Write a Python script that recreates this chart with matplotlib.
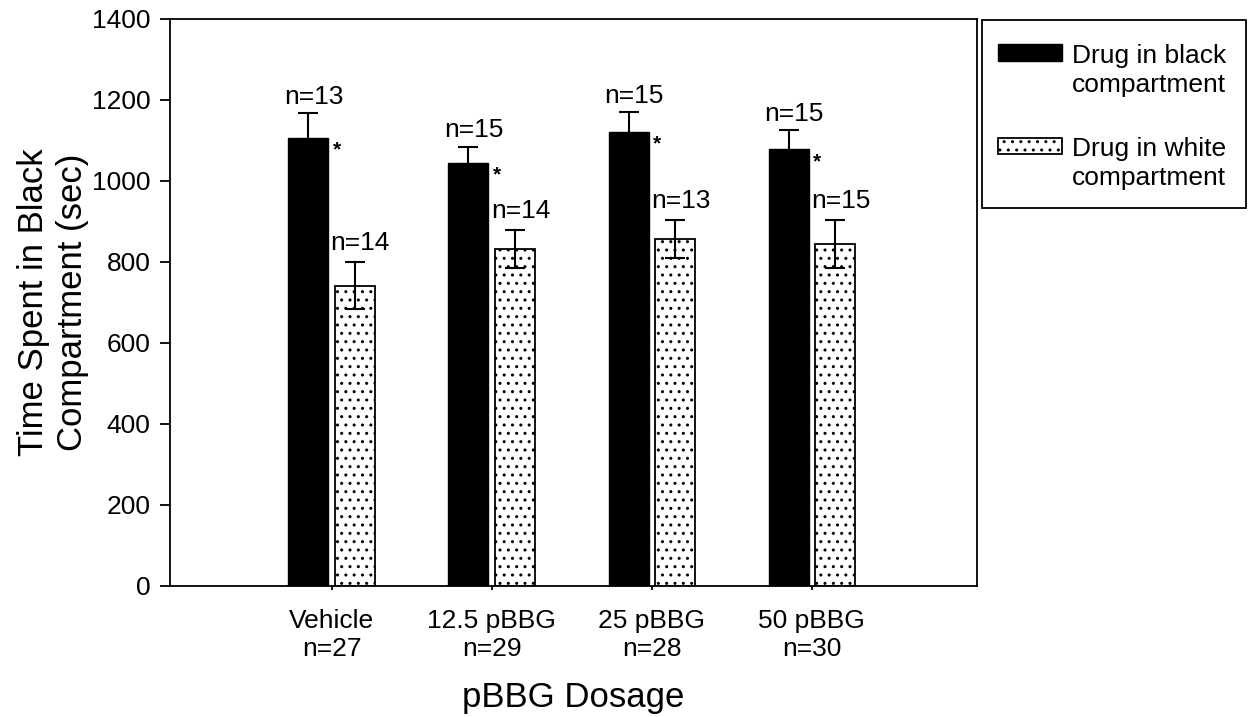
import numpy as np
import matplotlib
matplotlib.use('Agg')
from matplotlib import pyplot as plt
from matplotlib.patches import Rectangle
from matplotlib.container import BarContainer
from matplotlib.legend_handler import HandlerPatch, update_from_first_child

plt.rcParams['font.family'] = ['Liberation Sans', 'DejaVu Sans']
plt.rcParams['hatch.linewidth'] = 1.0

groups = ['Vehicle\nn=27', '12.5 pBBG\nn=29', '25 pBBG\nn=28', '50 pBBG\nn=30']
black_vals = [1106, 1044, 1121, 1077]
black_err = [60, 40, 48, 47]
black_n = ['n=13', 'n=15', 'n=15', 'n=15']
white_vals = [741, 832, 856, 843]
white_err = [58, 47, 46, 59]
white_n = ['n=14', 'n=14', 'n=13', 'n=15']

fig = plt.figure(figsize=(12.49, 7.17), dpi=100)
ax = fig.add_axes([0.136, 0.183, 0.646, 0.791])

x = np.arange(len(groups))
w = 0.25
off = 0.145
b1 = ax.bar(x - off, black_vals, w, color='black', edgecolor='black', linewidth=1,
            label='Drug in black\ncompartment', zorder=2)
b2 = ax.bar(x + off, white_vals, w, color='white', edgecolor='black', linewidth=1.3,
            hatch='..', label='Drug in white\ncompartment', zorder=2)
ax.errorbar(x - off, black_vals, yerr=black_err, fmt='none', ecolor='black',
            elinewidth=1.5, capsize=7, capthick=1.5, zorder=3)
ax.errorbar(x + off, white_vals, yerr=white_err, fmt='none', ecolor='black',
            elinewidth=1.5, capsize=7, capthick=1.5, zorder=3)

for i in range(len(groups)):
    ax.annotate(black_n[i], (x[i] - off, black_vals[i] + black_err[i]), xytext=(4, 3),
                textcoords='offset points', ha='center', va='bottom', fontsize=19)
    ax.annotate(white_n[i], (x[i] + off, white_vals[i] + white_err[i]), xytext=(4, 5),
                textcoords='offset points', ha='center', va='bottom', fontsize=19)
    ax.annotate('*', (x[i] - off + w / 2, black_vals[i]), xytext=(3, -2),
                textcoords='offset points', ha='left', va='top', fontsize=15,
                fontweight='bold')

ax.set_xlim(-1.01, 4.03)
ax.set_ylim(0, 1400)
ax.set_yticks(range(0, 1401, 200))
ax.set_xticks(x)
ax.set_xticklabels(groups, fontsize=19, linespacing=1.2)
ax.tick_params(axis='x', length=3, width=1.3, pad=14)
ax.tick_params(axis='y', labelsize=19, length=7, width=1.3, direction='out', pad=7)
for s in ax.spines.values():
    s.set_linewidth(1.3)

ax.set_xlabel('pBBG Dosage', fontsize=25, labelpad=14)
ax.set_ylabel('Time Spent in Black\nCompartment (sec)', fontsize=25, linespacing=1.25)
ax.yaxis.set_label_coords(-0.10, 0.5)


# legend handle sits next to the first line of the label, not the middle
def top_patch(legend, orig_handle, xdescent, ydescent, width, height, fontsize):
    return Rectangle((-xdescent, -ydescent + 0.68 * fontsize), width, height)


fig.patches.append(Rectangle((982 / 1249, 1 - 208 / 717), 264 / 1249, 188 / 717,
                             transform=fig.transFigure, facecolor='white',
                             edgecolor='black', linewidth=1.3, zorder=5))
leg = fig.legend(handles=[b1, b2], loc='upper left', bbox_to_anchor=(998 / 1249, 1 - 44 / 717),
                 fontsize=19, frameon=False, borderpad=0, handlelength=2.42,
                 handleheight=0.57, handletextpad=0.38, labelspacing=1.53, borderaxespad=0,
                 handler_map={BarContainer: HandlerPatch(patch_func=top_patch,
                                                         update_func=update_from_first_child)})
leg.set_zorder(6)
for t in leg.get_texts():
    t.set_linespacing(1.25)

plt.savefig('out.png', dpi=100)
